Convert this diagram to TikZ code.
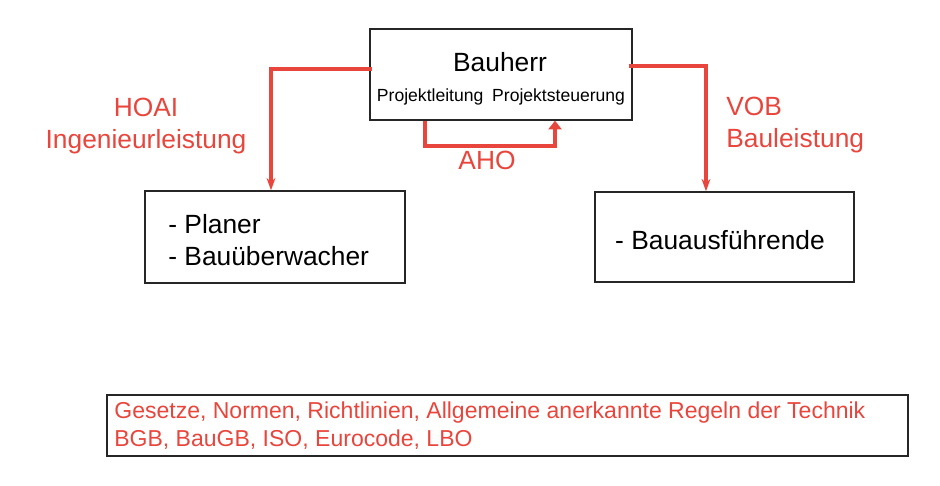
\documentclass[tikz,border=0pt]{standalone}
\usepackage{fontspec}
\setmainfont{Liberation Sans}
\usetikzlibrary{arrows.meta,positioning,calc}
\definecolor{vred}{RGB}{232,69,60}

\tikzset{
  party/.style={draw=black!85,line width=0.8pt,inner sep=0pt},
  flow/.style={vred,line width=2.2pt},
  redtext/.style={text=vred,font=\fontsize{15}{18.5}\selectfont,inner sep=0pt}
}

\begin{document}
\begin{tikzpicture}[x=0.02cm,y=-0.02cm]
\useasboundingbox (0,0) rectangle (940,485);
% Boxes
\node[party,minimum width=262*0.02cm,minimum height=91*0.02cm] (bauherr) at (501,74.5) {};
\node[party,minimum width=260*0.02cm,minimum height=92*0.02cm] (planer) at (275,237) {};
\node[party,minimum width=259*0.02cm,minimum height=90*0.02cm] (bau) at (724.5,237) {};
\node[party,minimum width=801*0.02cm,minimum height=61*0.02cm] (normen) at (507.5,425.5) {};
% Texts in boxes
\node[font=\fontsize{15}{18}\selectfont] (bauherrtxt) at (500,62) {Bauherr};
\node[font=\fontsize{10}{12}\selectfont] (rollen) at (501,97) {Projektleitung\enspace Projektsteuerung};
\node[font=\fontsize{15}{18.7}\selectfont,align=left,anchor=west,inner sep=0pt] (planertxt) at (168,240)
  {- Planer\\- Bauüberwacher};
\node[font=\fontsize{15}{18}\selectfont] (bautxt) at (720,240) {- Bauausführende};
\node[text=vred,font=\fontsize{13.1}{15.9}\selectfont,align=left,anchor=west,inner sep=0pt] (normentxt) at (114,426)
  {Gesetze, Normen, Richtlinien, Allgemeine anerkannte Regeln der Technik\\BGB, BauGB, ISO, Eurocode, LBO};
% Contract labels
\node[redtext,align=center] (hoai) at (146,126) {HOAI\\Ingenieurleistung};
\node[redtext,align=left,anchor=west] (vob) at (726,125) {VOB\\Bauleistung};
\node[redtext] (aho) at (487,160) {AHO};
% Connectors
\draw[flow,-{Stealth[length=7pt,width=5pt]}] ($(bauherr.west)+(3,-5.5)$) -| ($(planer.north)+(-4,0)$);
\draw[flow,-{Stealth[length=7pt,width=5pt]}] ($(bauherr.east)+(-4,-8.5)$) -| ($(bau.north)+(-18.5,0)$);
\draw[flow,-{Triangle[length=5pt,width=7.5pt]}] ($(bauherr.south)+(-76,0)$) -- ++(0,25) -| ($(bauherr.south)+(54,0)$);
\end{tikzpicture}
\end{document}
